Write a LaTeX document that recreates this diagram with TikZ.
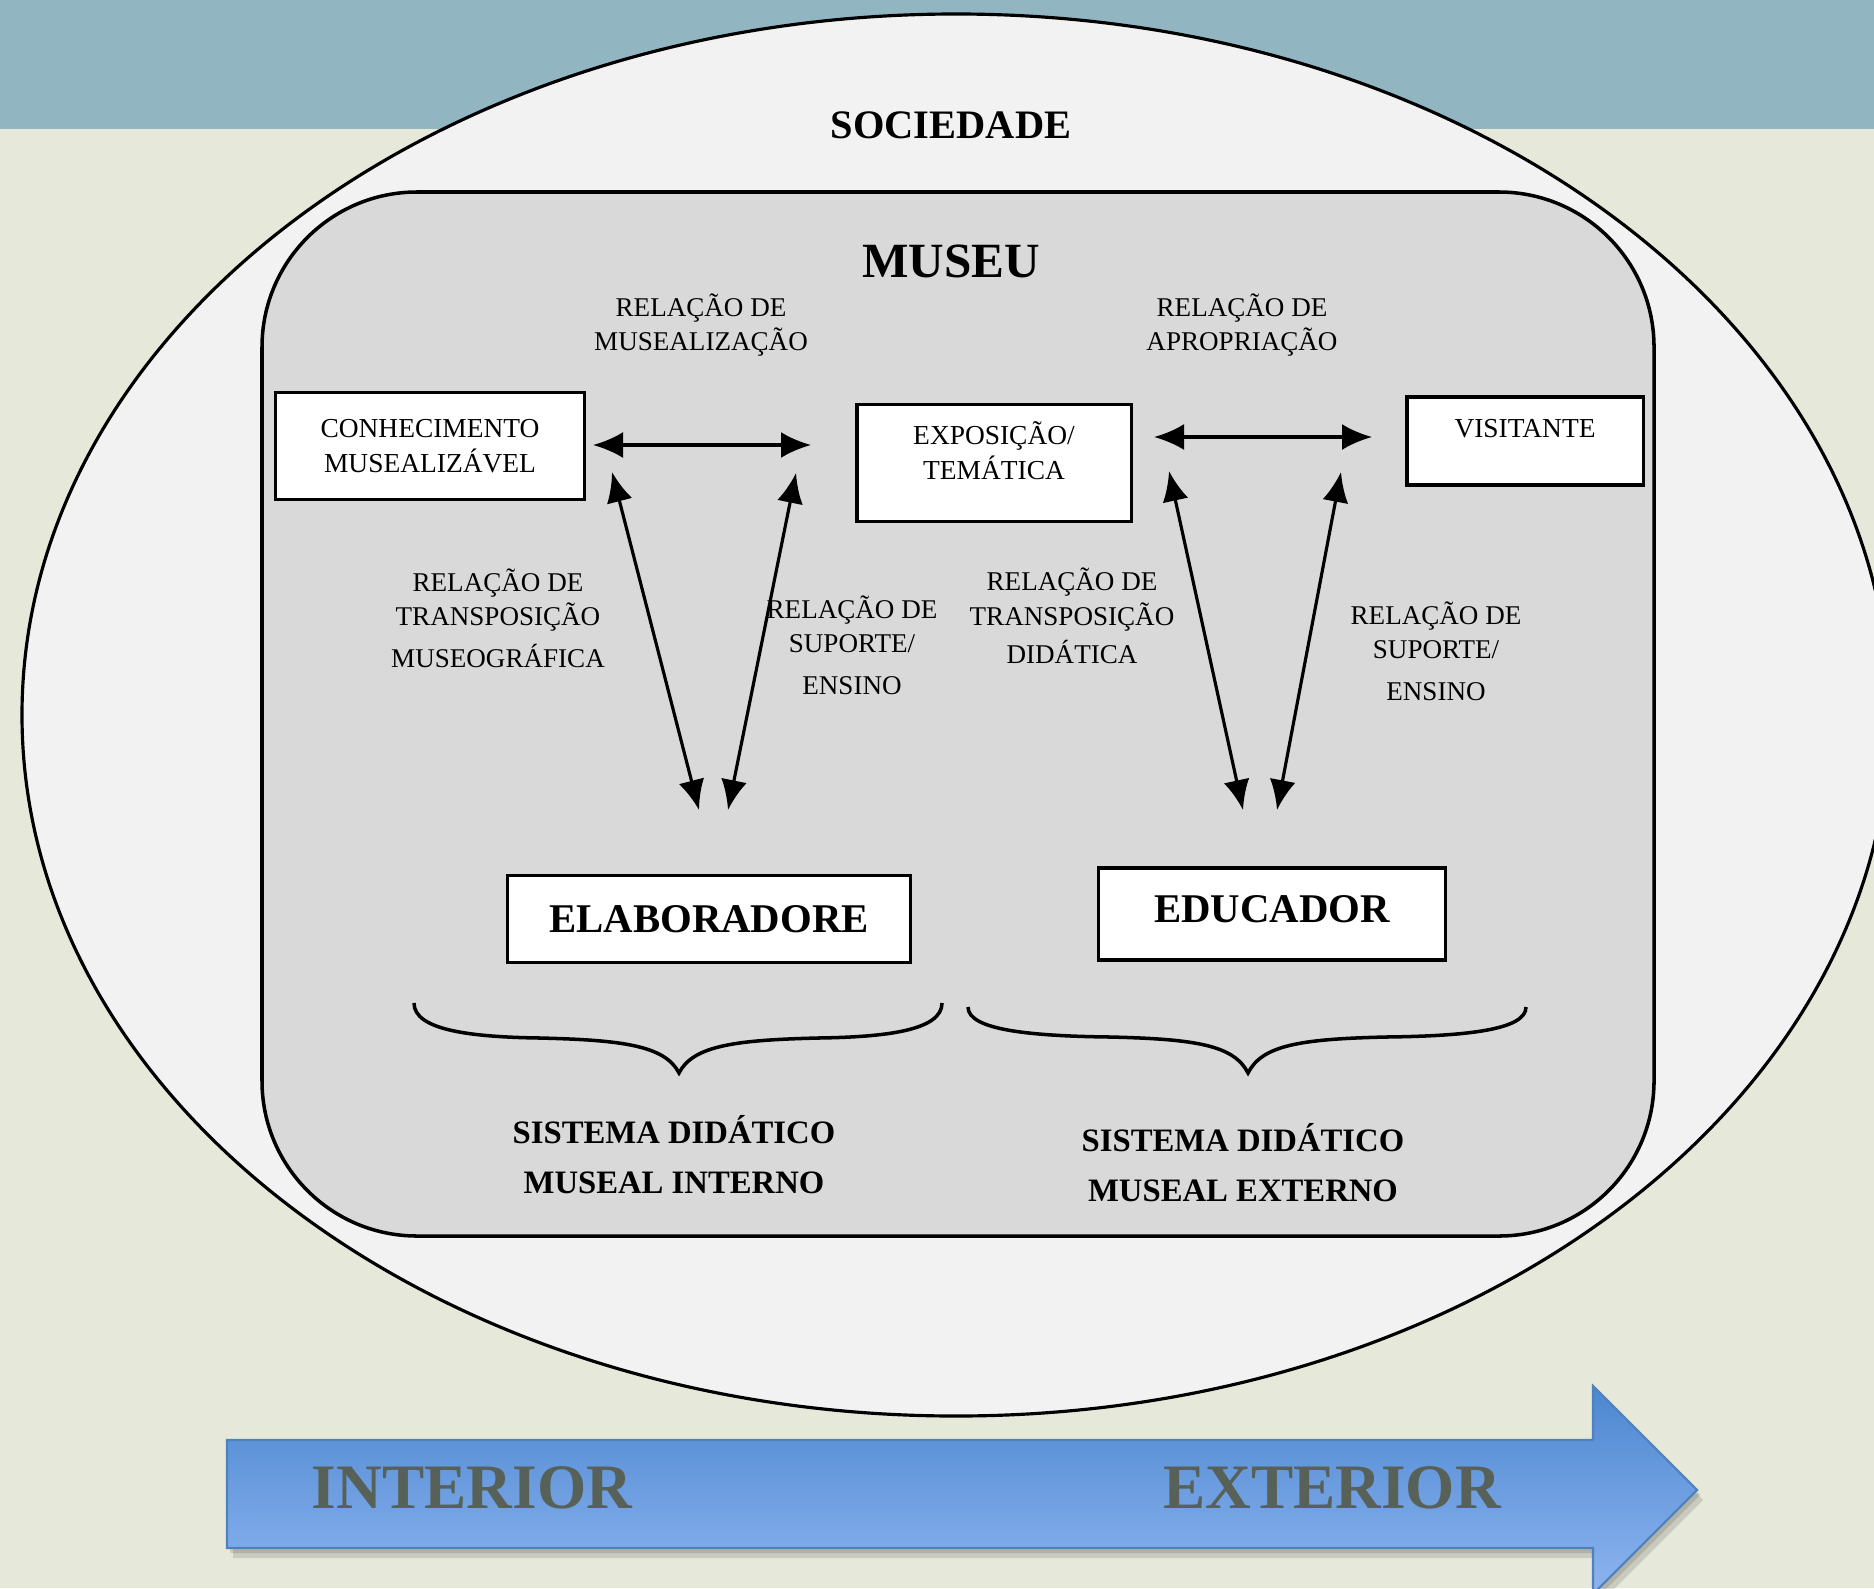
\documentclass[tikz,border=0pt]{standalone}
\usepackage{fontspec}
\setmainfont{Liberation Serif}
\usepackage{tikz}
\usetikzlibrary{arrows.meta}

\definecolor{ceu}{RGB}{146,181,194}
\definecolor{papel}{RGB}{230,232,218}
\definecolor{sociedadecor}{RGB}{242,242,242}
\definecolor{museucor}{RGB}{217,217,217}
\definecolor{azulcima}{RGB}{76,135,208}
\definecolor{azulbaixo}{RGB}{141,180,240}
\definecolor{azulborda}{RGB}{79,129,189}
\definecolor{textocinza}{RGB}{88,97,88}

\tikzstyle{caixa} = [rectangle, 
draw=black, 
fill=white, 
line width=0.9pt, 
align=center, 
inner sep=0pt,
font=\fontsize{7.8}{9.8}\selectfont]
\tikzstyle{ator} = [caixa, 
font=\fontsize{11.6}{14}\selectfont\bfseries]
\tikzstyle{rotulo} = [align=center, 
font=\fontsize{7.7}{9.8}\selectfont]
\tikzstyle{sistema} = [align=center, 
font=\fontsize{9.3}{14.2}\selectfont\bfseries]
\tikzstyle{seta} = [line width=0.9pt, {Latex[length=3mm,width=2.6mm]}-{Latex[length=3mm,width=2.6mm]}]
\tikzstyle{eixo} = [font=\fontsize{18}{21}\selectfont\bfseries, text=textocinza]

\begin{document}
\begin{tikzpicture}[x=0.01cm, y=-0.01cm]
    \useasboundingbox (0,0) rectangle (1874,1588);
    % fundo
    \fill[papel] (0,0) rectangle (1874,1588);
    \fill[ceu] (0,0) rectangle (1874,129);

    % sociedade e museu
    \draw[fill=sociedadecor, line width=0.9pt] (956,715) ellipse [x radius=934, y radius=701];
    \draw[fill=museucor, line width=1pt, rounded corners=1.55cm] (262,192) rectangle (1654,1236);
    \node (sociedade) at (951,125) {\fontsize{11.5}{14}\selectfont\bfseries SOCIEDADE};
    \node (museu) at (951,261) {\fontsize{14}{17}\selectfont\bfseries MUSEU};

    % caixas
    \node (conhecimento) [caixa, minimum width=3.08cm, minimum height=1.07cm] at (430,446) {CONHECIMENTO\\MUSEALIZÁVEL};
    \node (exposicao) [caixa, minimum width=2.74cm, minimum height=1.17cm, text depth=0.25cm] at (994,463) {EXPOSIÇÃO/\\TEMÁTICA};
    \node (visitante) [caixa, minimum width=2.36cm, minimum height=0.88cm, text depth=0.26cm] at (1525,441) {VISITANTE};
    \node (elaboradore) [ator, minimum width=4.03cm, minimum height=0.87cm] at (709,919) {ELABORADORE};
    \node (educador) [ator, minimum width=3.47cm, minimum height=0.92cm, text depth=0.1cm] at (1272,914) {EDUCADOR};

    % relacoes
    \node (rmuseal) [rotulo] at (701,325) {RELAÇÃO DE\\MUSEALIZAÇÃO};
    \node (rapropria) [rotulo] at (1242,325) {RELAÇÃO DE\\APROPRIAÇÃO};
    \node (rtransmuseo) [rotulo] at (498,618) {RELAÇÃO DE\\TRANSPOSIÇÃO\\[2pt]MUSEOGRÁFICA};
    \node (rsuporteint) [rotulo] at (852,645) {RELAÇÃO DE\\SUPORTE/\\[2pt]ENSINO};
    \node (rtransdida) [rotulo] at (1072,616) {RELAÇÃO DE\\TRANSPOSIÇÃO\\[1pt]DIDÁTICA};
    \node (rsuporteext) [rotulo] at (1436,651) {RELAÇÃO DE\\SUPORTE/\\[2pt]ENSINO};

    % pontas das setas
    \coordinate (hma) at (593,445);
    \coordinate (hmb) at (811,445);
    \coordinate (haa) at (1154,437);
    \coordinate (hab) at (1372,437);
    \coordinate (tma) at (612,472);
    \coordinate (tmb) at (699,810);
    \coordinate (sia) at (796,473);
    \coordinate (sib) at (728,810);
    \coordinate (tda) at (1169,471);
    \coordinate (tdb) at (1243,810);
    \coordinate (sea) at (1341,472);
    \coordinate (seb) at (1277,810);

    \draw [seta] (hma) -- (hmb);
    \draw [seta] (haa) -- (hab);
    \draw [seta] (tma) -- (tmb);
    \draw [seta] (sia) -- (sib);
    \draw [seta] (tda) -- (tdb);
    \draw [seta] (sea) -- (seb);

    % chaves
    \draw[line width=1pt] (414,1003) .. controls (414,1030) and (470,1037) .. (540,1038)
        .. controls (620,1040) and (665,1045) .. (679,1073)
        .. controls (693,1045) and (738,1040) .. (818,1038)
        .. controls (888,1037) and (942,1030) .. (942,1003);
    \draw[line width=1pt] (968,1007) .. controls (968,1030) and (1030,1036) .. (1110,1037)
        .. controls (1195,1039) and (1234,1045) .. (1248,1073)
        .. controls (1262,1045) and (1301,1039) .. (1386,1037)
        .. controls (1466,1036) and (1526,1030) .. (1526,1007);

    \node (interno) [sistema] at (674,1155) {SISTEMA DIDÁTICO\\MUSEAL INTERNO};
    \node (externo) [sistema] at (1243,1163) {SISTEMA DIDÁTICO\\MUSEAL EXTERNO};

    % seta interior - exterior
    \fill[black, opacity=0.12] (233,1450) -- (1599,1450) -- (1599,1396) -- (1703,1500) -- (1599,1604) -- (1599,1558) -- (233,1558) -- cycle;
    \fill[black, opacity=0.12] (230,1445) -- (1596,1445) -- (1596,1391) -- (1700,1495) -- (1596,1599) -- (1596,1553) -- (230,1553) -- cycle;
    \shade[top color=azulcima, bottom color=azulbaixo, draw=azulborda, line width=0.6pt]
        (227,1440) -- (1593,1440) -- (1593,1386) -- (1697,1490) -- (1593,1594) -- (1593,1548) -- (227,1548) -- cycle;
    \node (interior) [eixo] at (472,1488) {INTERIOR};
    \node (exterior) [eixo] at (1332,1488) {EXTERIOR};
\end{tikzpicture}
\end{document}
